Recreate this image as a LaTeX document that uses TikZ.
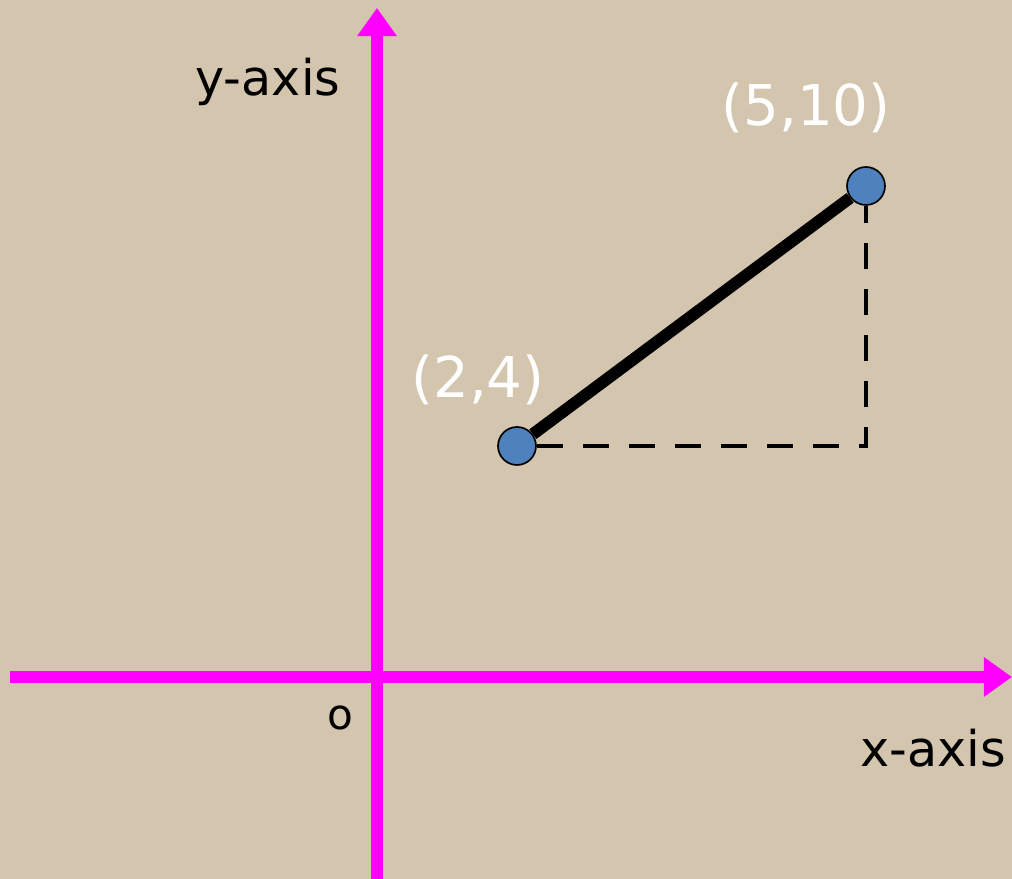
\documentclass[tikz,border=0pt]{standalone}
\usepackage{fontspec}
\setmainfont{DejaVu Sans}
\usetikzlibrary{arrows.meta}
\definecolor{carta}{RGB}{212,198,174}
\definecolor{fucsia}{RGB}{255,0,255}
\definecolor{azzurro}{RGB}{79,129,189}
\tikzset{
    asse/.style={line width=9.2pt, fucsia, -{Triangle[length=20pt, width=27pt]}},
    punto/.style={circle, draw=black, line width=1.2pt, fill=azzurro, minimum size=27pt, inner sep=0pt},
    coord/.style={white, font=\fontsize{40}{40}\selectfont},
    etichetta/.style={black, font=\fontsize{35}{35}\selectfont}
}
\begin{document}
\begin{tikzpicture}[x=0.025cm, y=0.025cm]
    % Sfondo
    \useasboundingbox (0,0) rectangle (1012,879);
    \fill[carta] (0,0) rectangle (1012,879);

    % Assi
    \coordinate (ysotto) at (377,0);
    \coordinate (ysopra) at (377,871);
    \coordinate (xsx) at (10,202);
    \coordinate (xdx) at (1012,202);
    \draw[asse] (ysotto) -- (ysopra);
    \draw[asse] (xsx) -- (xdx);

    % Punti
    \node[punto] (A) at (517,433) {};
    \node[punto] (B) at (866,693) {};
    \coordinate (angolo) at (866,433);

    % Segmento e cateti
    \draw[line width=8.5pt, black] (A) -- (B);
    \draw[line width=3.5pt, black, dash pattern=on 18.5pt off 14.2pt] (A) -- (angolo) -- (B);

    % Labels
    \node[coord] (lA) at (478,499) {(2,4)};
    \node[coord] (lB) at (806,771) {(5,10)};
    \node[etichetta] (ly) at (268,797) {y-axis};
    \node[etichetta] (lx) at (933,131) {x-axis};
    \node[etichetta, font=\fontsize{30}{30}\selectfont] (lo) at (340,161) {o};
\end{tikzpicture}
\end{document}
